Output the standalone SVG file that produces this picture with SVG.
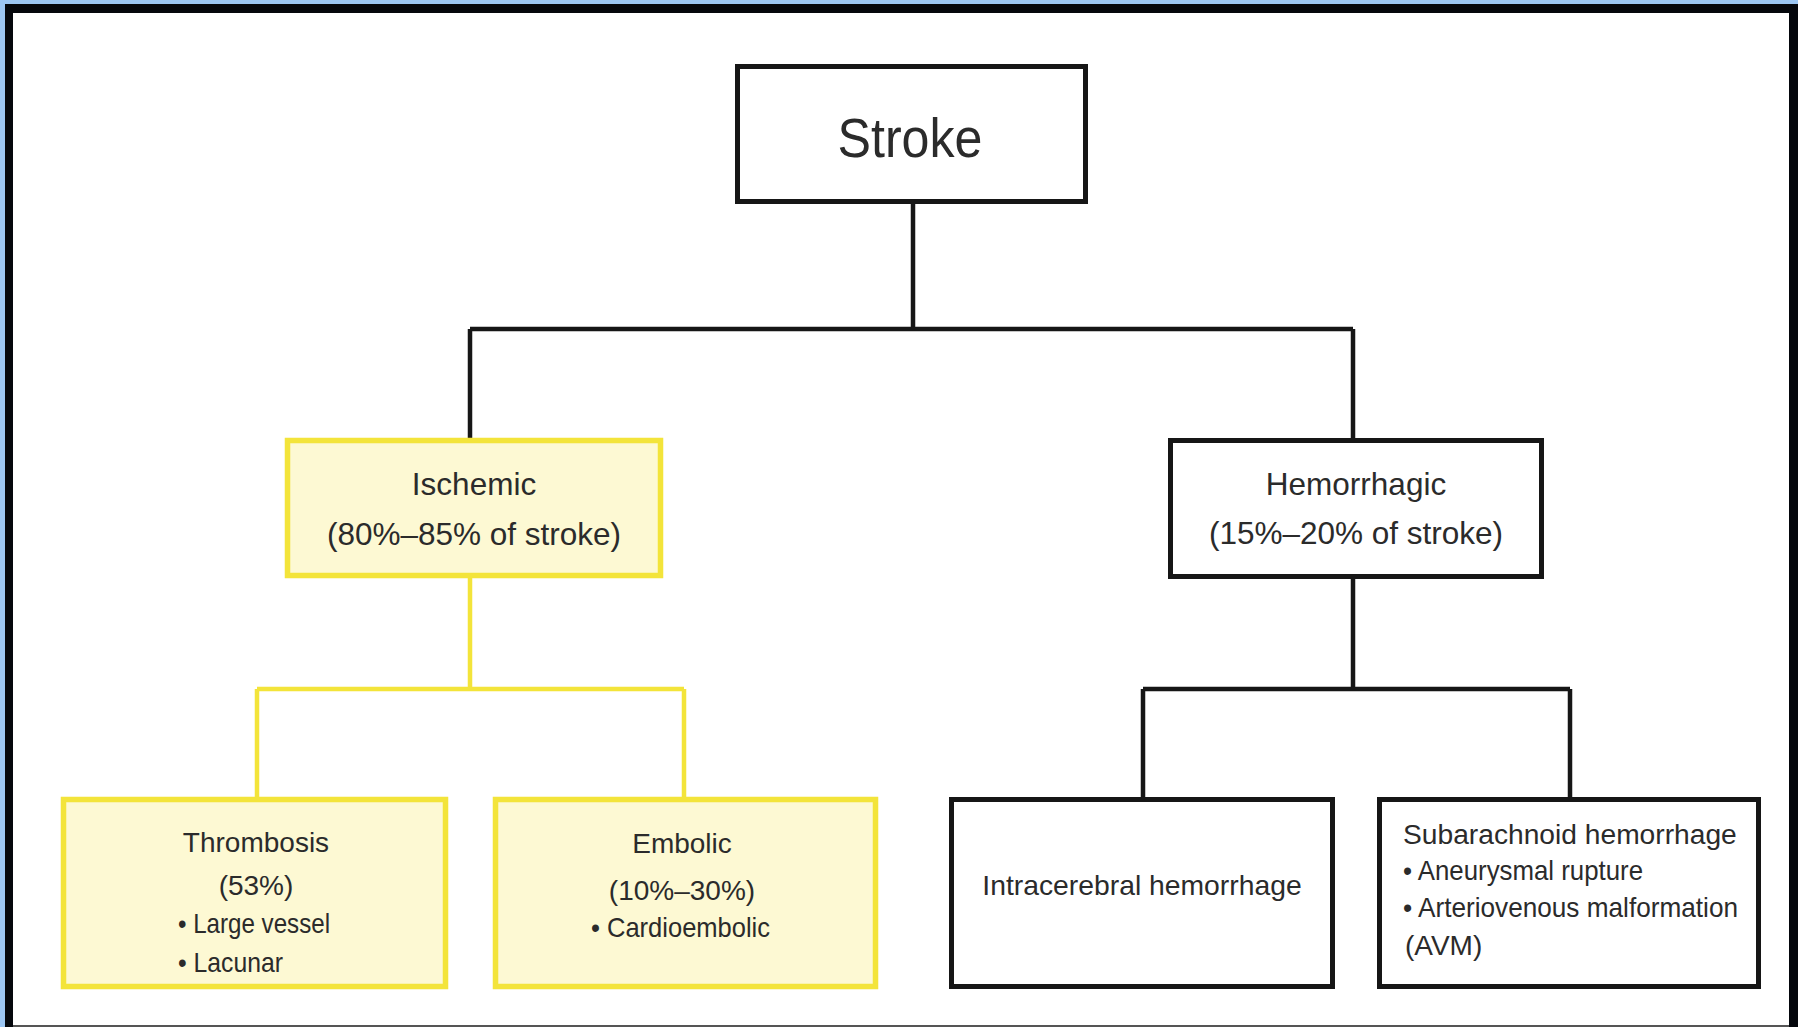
<svg xmlns="http://www.w3.org/2000/svg" width="1798" height="1027" viewBox="0 0 1798 1027">
<style>
.t{font-family:"Liberation Sans",Arial,sans-serif;fill:#2b2b2b}
.c{text-anchor:middle}
.bk{fill:#ffffff;stroke:#161616;stroke-width:5}
.yl{fill:#fdf9d3;stroke:#f3e43a;stroke-width:5.5}
.lb{fill:none;stroke:#161616;stroke-width:4.5}
.ly{fill:none;stroke:#f3e43a;stroke-width:4.5}
</style>
<rect x="0" y="0" width="1798" height="1027" fill="#9cc6f3"/>
<rect x="5" y="4" width="1793" height="1023" fill="#05070c"/>
<rect x="13" y="13" width="1776" height="1012" fill="#ffffff"/>
<rect x="13" y="1025" width="1776" height="2" fill="#555"/>
<g id="connectors">
  <path class="lb" d="M913 204V329M470 329H1353M470 329V438M1353 329V438"/>
  <path class="ly" d="M470 578V689M257 689H684M257 689V797M684 689V797"/>
  <path class="lb" d="M1353 579V689M1143 689H1570M1143 689V797M1570 689V797"/>
</g>
<g id="stroke">
  <rect class="bk" x="737.5" y="66.5" width="348" height="135"/>
  <text class="t c" x="910" y="157" font-size="56" textLength="145" lengthAdjust="spacingAndGlyphs">Stroke</text>
</g>
<g id="ischemic">
  <rect class="yl" x="287.5" y="440.5" width="373" height="135"/>
  <text class="t c" x="474" y="495" font-size="31.5">Ischemic</text>
  <text class="t c" x="474" y="545" font-size="31.5">(80%–85% of stroke)</text>
</g>
<g id="hemorrhagic">
  <rect class="bk" x="1170.5" y="440.5" width="371" height="136"/>
  <text class="t c" x="1356" y="495" font-size="31.5">Hemorrhagic</text>
  <text class="t c" x="1356" y="544" font-size="31.5">(15%–20% of stroke)</text>
</g>
<g id="thrombosis">
  <rect class="yl" x="63.5" y="799.5" width="382" height="187"/>
  <text class="t c" x="256" y="852" font-size="28">Thrombosis</text>
  <text class="t c" x="256" y="895" font-size="28">(53%)</text>
  <text class="t" x="178" y="933" font-size="28" textLength="152" lengthAdjust="spacingAndGlyphs">• Large vessel</text>
  <text class="t" x="178" y="972" font-size="28" textLength="105" lengthAdjust="spacingAndGlyphs">• Lacunar</text>
</g>
<g id="embolic">
  <rect class="yl" x="495.5" y="799.5" width="380" height="187"/>
  <text class="t c" x="682" y="853" font-size="28">Embolic</text>
  <text class="t c" x="682" y="900" font-size="28">(10%–30%)</text>
  <text class="t" x="591" y="937" font-size="28" textLength="179" lengthAdjust="spacingAndGlyphs">• Cardioembolic</text>
</g>
<g id="intracerebral">
  <rect class="bk" x="951.5" y="799.5" width="381" height="187"/>
  <text class="t c" x="1142" y="895" font-size="28.3">Intracerebral hemorrhage</text>
</g>
<g id="subarachnoid">
  <rect class="bk" x="1379.5" y="799.5" width="379" height="187"/>
  <text class="t" x="1403" y="844" font-size="28.2">Subarachnoid hemorrhage</text>
  <text class="t" x="1403" y="880" font-size="28" textLength="240" lengthAdjust="spacingAndGlyphs">• Aneurysmal rupture</text>
  <text class="t" x="1403" y="917" font-size="28" textLength="335" lengthAdjust="spacingAndGlyphs">• Arteriovenous malformation</text>
  <text class="t" x="1405" y="955" font-size="28">(AVM)</text>
</g>
</svg>
